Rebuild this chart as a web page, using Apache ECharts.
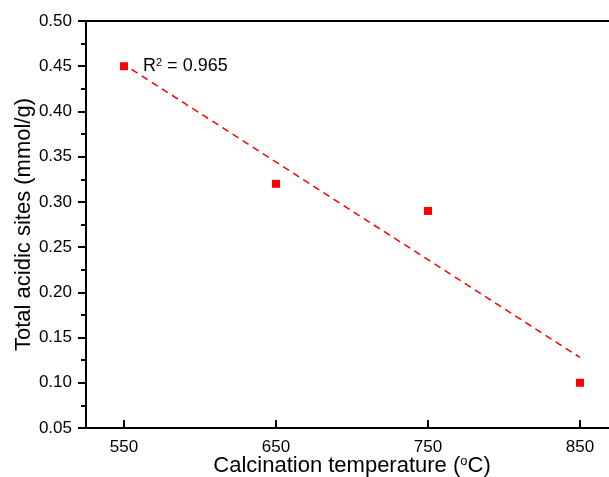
<!DOCTYPE html>
<html>
<head>
<meta charset="utf-8">
<script src="https://cdn.jsdelivr.net/npm/echarts@6/dist/echarts.min.js"></script>
<style>html,body{margin:0;padding:0;background:#fff}#c{width:609px;height:477px}</style>
</head>
<body>
<div id="c"></div>
<script>
var temperatures = [550, 650, 750, 850];
var acidSites = [0.45, 0.32, 0.29, 0.10];
var fitX = [555, 850];
var fitY = [0.4466, 0.128];
var xTicks = [550, 650, 750, 850];

var chart = echarts.init(document.getElementById('c'));
var font = 'Liberation Sans, Arial, sans-serif';
chart.setOption({
  animation: false,
  backgroundColor: '#fff',
  grid: {left: 86, top: 21, right: -9, bottom: 49, outerBoundsMode: 'none', containLabel: false, show: true, borderColor: '#000', borderWidth: 2, backgroundColor: 'transparent'},
  xAxis: {
    type: 'value', min: 525, max: 875,
    name: 'Calcination temperature ({s|o}C)',
    nameLocation: 'middle', nameGap: 27, nameMoveOverlap: false,
    nameTextStyle: {fontFamily: font, fontSize: 22, color: '#000', rich: {s: {fontSize: 13, verticalAlign: 'top', padding: [0,0,9,0], fontFamily: font, color:'#000'}}},
    axisLine: {lineStyle: {color: '#000', width: 2}},
    axisTick: {show: true, customValues: xTicks, length: 8, inside: true, lineStyle: {color: '#000', width: 2}},
    axisLabel: {customValues: xTicks, fontFamily: font, fontSize: 17, color: '#000', margin: 11},
    splitLine: {show: false}
  },
  yAxis: {
    type: 'value', min: 0.05, max: 0.5, interval: 0.05,
    name: 'Total acidic sites (mmol/g)',
    nameLocation: 'middle', nameGap: 51, nameRotate: 90, nameMoveOverlap: false,
    nameTextStyle: {fontFamily: font, fontSize: 22, color: '#000'},
    axisLine: {show: true, lineStyle: {color: '#000', width: 2}},
    axisTick: {show: true, length: 8, lineStyle: {color: '#000', width: 2}},
    minorTick: {show: true, splitNumber: 2, length: 5, lineStyle: {color: '#000', width: 2}},
    axisLabel: {fontFamily: font, fontSize: 17, color: '#000', margin: 14, formatter: function(v){return v.toFixed(2);}},
    splitLine: {show: false}
  },
  series: [
    {
      type: 'line',
      data: fitX.map(function(x,i){return [x, fitY[i]];}),
      showSymbol: false, symbol: 'none',
      lineStyle: {color: '#ff0000', width: 1.5, type: [7, 5]},
      z: 2
    },
    {
      type: 'scatter',
      data: temperatures.map(function(x,i){return [x, acidSites[i]];}),
      symbol: 'rect', symbolSize: 8,
      itemStyle: {color: '#ff0000', opacity: 1},
      z: 3
    }
  ],
  graphic: [{
    type: 'text', left: 143, top: 57,
    style: {
      text: 'R{s|2} = 0.965',
      font: '18px ' + font,
      fill: '#000',
      rich: {s: {fontSize: 11, verticalAlign: 'top', padding: [0,0,8,0], fill: '#000', fontFamily: font}}
    }
  }]
});
</script>
</body>
</html>
